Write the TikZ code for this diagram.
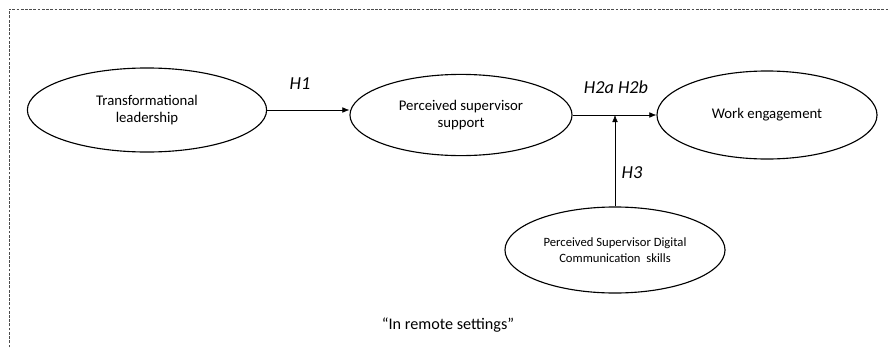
\documentclass[tikz,border=0pt]{standalone}
\usepackage{fontspec}
\setmainfont{Carlito}
\usepackage{tikz}
\usetikzlibrary{positioning,arrows.meta,shapes.geometric,calc}

\begin{document}
\begin{tikzpicture}[x=0.025cm, y=-0.025cm,
  construct/.style={draw, thick, ellipse, inner sep=0pt, align=center, font=\fontsize{10.5}{12}\selectfont},
  path/.style={-{Latex[length=5pt,width=4pt]}},
  hyp/.style={font=\fontsize{13}{15}\selectfont\itshape}]
  \useasboundingbox (0,0) rectangle (890,349);

  % Frame (cut off on the right and at the bottom)
  \draw[gray!60!black, dash pattern=on 2pt off 1pt] (9,360) -- (9,9) -- (900,9);

  % Constructs
  \node[construct, minimum width=5.98cm, minimum height=2.1cm] (tl) at (147,110) {Transformational\\leadership};
  \node[construct, minimum width=5.55cm, minimum height=2.03cm] (pss) at (461,115) {Perceived supervisor\\support};
  \node[construct, minimum width=5.5cm, minimum height=2.2cm] (we) at (767,115) {Work engagement};
  \node[construct, minimum width=5.5cm, minimum height=2.15cm, font=\fontsize{9}{11}\selectfont] (dcs) at (615,250) {Perceived Supervisor Digital\\Communication~ skills};

  % Paths
  \draw[path] (tl.east) -- (tl.east -| pss.west);
  \draw[path] (pss.east) -- (we.west);
  \draw[path] (dcs.north) -- (dcs.north |- we.west);

  % Hypotheses
  \node[hyp] (h1) at (300,84) {H1};
  \node[hyp] (h2) at (616,87) {H2a H2b};
  \node[hyp] (h3) at (632,173) {H3};

  \node[font=\fontsize{11.5}{14}\selectfont] (note) at (448,325) {“In remote settings”};
\end{tikzpicture}
\end{document}
